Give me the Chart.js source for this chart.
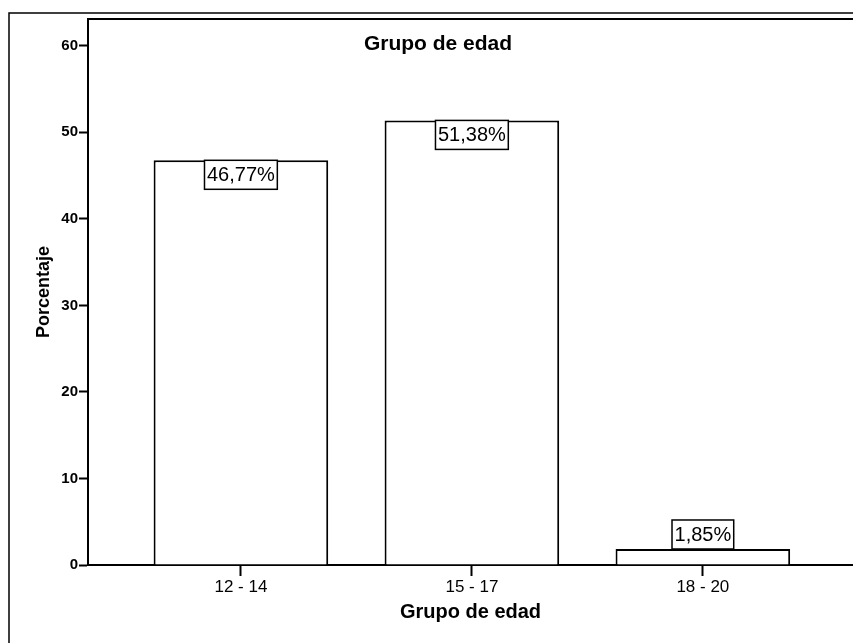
<!DOCTYPE html>
<html>
<head>
<meta charset="utf-8">
<script src="https://cdn.jsdelivr.net/npm/chart.js@4/dist/chart.umd.min.js"></script>
<style>
  html, body { margin: 0; padding: 0; background: #fff; overflow: hidden; }
  #wrap { width: 853px; height: 643px; }
</style>
</head>
<body>
<div id="wrap"><canvas id="edadChart" width="853" height="643"></canvas></div>
<script>
// Data
const categories = ['12 - 14', '15 - 17', '18 - 20'];
const percentages = [46.77, 51.38, 1.85];
const yTicks = [0, 10, 20, 30, 40, 50, 60];

const chartTitle = 'Grupo de edad';
const xTitle = 'Grupo de edad';
const yTitle = 'Porcentaje';

const FONT = '"Liberation Sans", Arial, sans-serif';

// Frame lines and the title inside the plot box
const framePlugin = {
    id: 'frame',
    beforeDraw(chart) {
        const ctx = chart.ctx;
        const a = chart.chartArea;
        ctx.save();
        ctx.strokeStyle = '#000';
        // outer frame
        ctx.lineWidth = 1.5;
        ctx.beginPath();
        ctx.moveTo(9, chart.height);
        ctx.lineTo(9, 13);
        ctx.lineTo(chart.width, 13);
        ctx.stroke();
        // top of plot box
        ctx.lineWidth = 2;
        ctx.beginPath();
        ctx.moveTo(a.left, a.top);
        ctx.lineTo(a.right, a.top);
        ctx.stroke();
        ctx.restore();
    },
    afterDraw(chart) {
        const ctx = chart.ctx;
        ctx.save();
        ctx.fillStyle = '#000';
        ctx.font = 'bold 21px ' + FONT;
        ctx.textAlign = 'center';
        ctx.textBaseline = 'alphabetic';
        ctx.fillText(chartTitle, 438, 50);
        ctx.restore();
    }
};

// Boxed value labels at the top of each bar
const valueLabels = {
    id: 'valueLabels',
    afterDatasetsDraw(chart) {
        const ctx = chart.ctx;
        const meta = chart.getDatasetMeta(0);
        ctx.save();
        ctx.font = '20px ' + FONT;
        ctx.textAlign = 'center';
        ctx.textBaseline = 'middle';
        meta.data.forEach((bar, i) => {
            const text = percentages[i].toFixed(2).replace('.', ',') + '%';
            const w = ctx.measureText(text).width + 5;
            const h = 29;
            const barH = bar.base - bar.y;
            const top = barH >= h ? bar.y : bar.y - h;
            const left = bar.x - w / 2;
            ctx.fillStyle = '#fff';
            ctx.fillRect(left, top, w, h);
            ctx.strokeStyle = '#000';
            ctx.lineWidth = 1.5;
            ctx.strokeRect(left, top, w, h);
            ctx.fillStyle = '#000';
            ctx.fillText(text, bar.x, top + h / 2 + 1);
        });
        ctx.restore();
    }
};

new Chart(document.getElementById('edadChart'), {
    type: 'bar',
    data: {
        datasets: [{
            data: percentages.map((v, i) => ({ x: i + 1, y: v })),
            backgroundColor: '#fff',
            borderColor: '#000',
            borderWidth: 2,
            borderSkipped: 'bottom',
            categoryPercentage: 1,
            barPercentage: 0.756
        }]
    },
    options: {
        responsive: false,
        animation: false,
        layout: { padding: { top: 19, right: 0, left: 0, bottom: 0 } },
        plugins: {
            legend: { display: false },
            tooltip: { enabled: false },
            title: { display: false }
        },
        scales: {
            x: {
                type: 'linear',
                offset: false,
                min: 0.338,
                max: 3.65,
                afterBuildTicks: scale => {
                    scale.ticks = categories.map((c, i) => ({ value: i + 1 }));
                },
                afterFit: scale => { scale.height = 78; },
                grid: {
                    offset: false,
                    drawOnChartArea: false,
                    drawTicks: true,
                    tickLength: 11,
                    tickWidth: 2,
                    tickColor: '#000'
                },
                border: { display: true, color: '#000', width: 2 },
                ticks: {
                    autoSkip: false,
                    maxRotation: 0,
                    padding: 1,
                    color: '#000',
                    font: { family: FONT, size: 17 },
                    callback: v => categories[Math.round(v) - 1]
                },
                title: {
                    display: true,
                    text: xTitle,
                    color: '#000',
                    font: { family: FONT, size: 20, weight: 'bold' },
                    padding: { top: 0, bottom: 19 }
                }
            },
            y: {
                min: 0,
                max: 63.1,
                afterBuildTicks: scale => {
                    scale.ticks = yTicks.map(v => ({ value: v }));
                },
                afterFit: scale => { scale.width = 88; },
                grid: {
                    drawOnChartArea: false,
                    drawTicks: true,
                    tickLength: 9,
                    tickWidth: 2,
                    tickColor: '#000'
                },
                border: { display: true, color: '#000', width: 2 },
                ticks: {
                    padding: 1,
                    color: '#000',
                    font: { family: FONT, size: 15, weight: 'bold' }
                },
                title: {
                    display: true,
                    text: yTitle,
                    color: '#000',
                    font: { family: FONT, size: 18, weight: 'bold' },
                    padding: { top: 33, bottom: 0 }
                }
            }
        }
    },
    plugins: [framePlugin, valueLabels]
});
</script>
</body>
</html>
